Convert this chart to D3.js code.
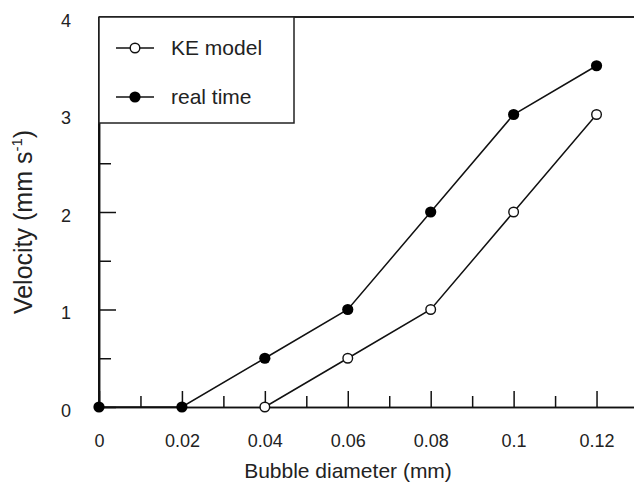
<!DOCTYPE html>
<html>
<head>
<meta charset="utf-8">
<script src="https://cdn.jsdelivr.net/npm/d3@7"></script>
<style>
  body { margin: 0; background: #fff; }
  svg { display: block; font-family: "Liberation Sans", Arial, sans-serif; }
</style>
</head>
<body>
<div id="chart"></div>
<script>
// data
const diameters = [0, 0.02, 0.04, 0.06, 0.08, 0.1, 0.12];
const keModelX = [0.04, 0.06, 0.08, 0.1, 0.12];
const keModelY = [0, 0.5, 1, 2, 3];
const realTimeX = [0, 0.02, 0.04, 0.06, 0.08, 0.1, 0.12];
const realTimeY = [0, 0, 0.5, 1, 2, 3, 3.5];
const xTickLabels = ['0', '0.02', '0.04', '0.06', '0.08', '0.1', '0.12'];
const yTicks = [0, 1, 2, 3, 4];
const legendNames = ['KE model', 'real time'];

const width = 634, height = 486;
const plot = {left: 99, top: 17, bottom: 407, right: 638};

const svg = d3.select('#chart').append('svg')
    .attr('width', width)
    .attr('height', height);

const x = d3.scaleLinear().domain([0, 0.13]).range([plot.left, plot.right]);
const y = d3.scaleLinear().domain([0, 4]).range([plot.bottom, plot.top]);

// axes with inward ticks
const xAxis = d3.axisBottom(x)
    .tickValues(diameters)
    .tickSizeInner(-16)
    .tickSizeOuter(0)
    .tickPadding(27)
    .tickFormat((d, i) => xTickLabels[i]);
const xMinor = d3.axisBottom(x)
    .tickValues(d3.range(0.01, 0.12, 0.02))
    .tickSizeInner(-11)
    .tickSizeOuter(0)
    .tickFormat('');

const gx = svg.append('g').attr('transform', `translate(0,${plot.bottom})`).call(xAxis);
svg.append('g').attr('transform', `translate(0,${plot.bottom})`).call(xMinor);

const yAxis = d3.axisLeft(y)
    .tickValues(yTicks)
    .tickSizeInner(-17)
    .tickSizeOuter(0)
    .tickPadding(33)
    .tickFormat(d3.format('d'));
const yMinor = d3.axisLeft(y)
    .tickValues([0.5, 1.5, 2.5, 3.5])
    .tickSizeInner(-12)
    .tickSizeOuter(0)
    .tickFormat('');

const gy = svg.append('g').attr('transform', `translate(${plot.left},0)`).call(yAxis);
svg.append('g').attr('transform', `translate(${plot.left},0)`).call(yMinor);

svg.selectAll('.domain').attr('stroke', '#111').attr('stroke-width', 1.5);
svg.selectAll('.tick line').attr('stroke', '#111').attr('stroke-width', 1.5);
svg.selectAll('.tick text').attr('font-size', 18).attr('fill', '#222');
gy.selectAll('.tick text').attr('text-anchor', 'middle').attr('y', 3).attr('dy', '0.35em');

// top and left frame lines
svg.append('line')
    .attr('x1', plot.left).attr('x2', width)
    .attr('y1', plot.top).attr('y2', plot.top)
    .attr('stroke', '#222').attr('stroke-width', 2);
svg.append('line')
    .attr('x1', plot.left).attr('x2', plot.left)
    .attr('y1', plot.top).attr('y2', plot.bottom)
    .attr('stroke', '#111').attr('stroke-width', 2);

// series
const line = d3.line().x(d => x(d[0])).y(d => y(d[1]));
const keData = keModelX.map((v, i) => [v, keModelY[i]]);
const rtData = realTimeX.map((v, i) => [v, realTimeY[i]]);

svg.append('path').datum(keData).attr('d', line)
    .attr('fill', 'none').attr('stroke', '#111').attr('stroke-width', 1.5);
svg.append('path').datum(rtData).attr('d', line)
    .attr('fill', 'none').attr('stroke', '#111').attr('stroke-width', 1.5);

svg.append('g').selectAll('circle').data(keData).join('circle')
    .attr('cx', d => x(d[0])).attr('cy', d => y(d[1])).attr('r', 4.8)
    .attr('fill', '#fff').attr('stroke', '#111').attr('stroke-width', 1.4);
svg.append('g').selectAll('circle').data(rtData).join('circle')
    .attr('cx', d => x(d[0])).attr('cy', d => y(d[1])).attr('r', 5.6)
    .attr('fill', '#000');

// legend
const legend = svg.append('g');
legend.append('rect')
    .attr('x', plot.left).attr('y', plot.top)
    .attr('width', 195).attr('height', 106)
    .attr('fill', '#fff').attr('stroke', '#222').attr('stroke-width', 1.5);
const items = legend.selectAll('g.item').data(legendNames).join('g')
    .attr('class', 'item')
    .attr('transform', (d, i) => `translate(0,${48 + i * 49})`);
items.append('line')
    .attr('x1', 116).attr('x2', 154)
    .attr('stroke', '#111').attr('stroke-width', 1.5);
items.append('circle')
    .attr('cx', 135).attr('r', (d, i) => i === 0 ? 4.8 : 5.6)
    .attr('fill', (d, i) => i === 0 ? '#fff' : '#000')
    .attr('stroke', '#111').attr('stroke-width', (d, i) => i === 0 ? 1.4 : 0);
items.append('text')
    .attr('x', 171).attr('dy', '0.34em')
    .attr('font-size', 21).attr('fill', '#222')
    .text(d => d);

// axis titles
svg.append('text')
    .attr('x', 348).attr('y', 478)
    .attr('text-anchor', 'middle')
    .attr('font-size', 21).attr('fill', '#222')
    .text('Bubble diameter (mm)');

const yt = svg.append('text')
    .attr('transform', 'translate(32,222) rotate(-90)')
    .attr('text-anchor', 'middle')
    .attr('font-size', 25).attr('fill', '#222');
yt.append('tspan').text('Velocity (mm s');
yt.append('tspan').attr('font-size', 15).attr('dy', -10).text('-1');
yt.append('tspan').attr('dy', 10).text(')');
</script>
</body>
</html>
